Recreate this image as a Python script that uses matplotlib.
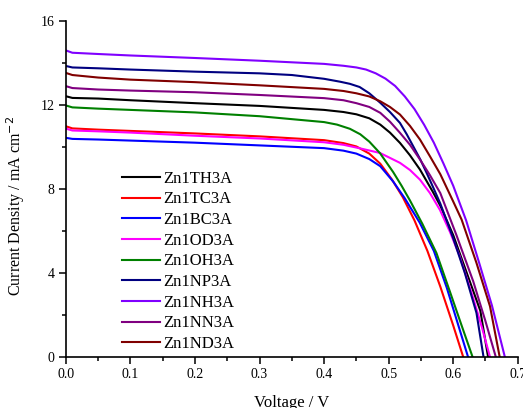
import matplotlib
matplotlib.use("Agg")
import matplotlib.pyplot as plt
from matplotlib.ticker import MultipleLocator

plt.rcParams['font.family'] = ['Liberation Serif', 'DejaVu Serif']

# J-V curves (V in volts, J in mA cm^-2)
v_th = [0, 0.01, 0.05, 0.1, 0.2, 0.3, 0.4, 0.43, 0.45, 0.47, 0.487, 0.502, 0.5175, 0.533, 0.5485, 0.5686, 0.58, 0.6, 0.621, 0.642, 0.654]
j_th = [12.41, 12.33, 12.30, 12.22, 12.08, 11.95, 11.76, 11.66, 11.55, 11.36, 11.06, 10.68, 10.19, 9.6, 8.92, 7.85, 7.2, 5.8, 4.0, 2.2, 0]

v_tc = [0, 0.01, 0.05, 0.1, 0.2, 0.3, 0.4, 0.43, 0.45, 0.47, 0.487, 0.505, 0.522, 0.54, 0.56, 0.58, 0.6, 0.6155]
j_tc = [10.98, 10.88, 10.82, 10.76, 10.64, 10.50, 10.32, 10.18, 10.02, 9.68, 9.2, 8.45, 7.6, 6.5, 5.05, 3.35, 1.5, 0]

v_bc = [0, 0.01, 0.05, 0.1, 0.2, 0.3, 0.4, 0.43, 0.45, 0.47, 0.487, 0.507, 0.525, 0.548, 0.57, 0.59, 0.61, 0.623]
j_bc = [10.43, 10.38, 10.35, 10.30, 10.20, 10.07, 9.94, 9.82, 9.68, 9.42, 9.08, 8.35, 7.55, 6.4, 5.05, 3.3, 1.3, 0]

v_od = [0, 0.01, 0.05, 0.1, 0.2, 0.3, 0.4, 0.43, 0.4556, 0.4866, 0.5175, 0.533, 0.5485, 0.564, 0.5794, 0.595, 0.61, 0.631, 0.645, 0.657]
j_od = [10.87, 10.78, 10.74, 10.68, 10.53, 10.40, 10.22, 10.10, 9.93, 9.71, 9.24, 8.9, 8.44, 7.8, 7.0, 5.95, 4.8, 2.8, 1.35, 0]

v_oh = [0, 0.01, 0.05, 0.1, 0.2, 0.3, 0.4, 0.42, 0.44, 0.456, 0.47, 0.4866, 0.507, 0.52, 0.533, 0.552, 0.574, 0.595, 0.613, 0.63]
j_oh = [11.97, 11.88, 11.82, 11.76, 11.64, 11.46, 11.18, 11.06, 10.86, 10.6, 10.25, 9.7, 8.8, 8.15, 7.45, 6.35, 4.95, 3.1, 1.5, 0]

v_np = [0, 0.01, 0.05, 0.1, 0.2, 0.3, 0.35, 0.4, 0.425, 0.44, 0.455, 0.47, 0.487, 0.502, 0.5175, 0.528, 0.538, 0.549, 0.559, 0.57, 0.58, 0.6, 0.618, 0.636, 0.647]
j_np = [13.85, 13.78, 13.74, 13.68, 13.58, 13.50, 13.42, 13.24, 13.1, 13.0, 12.85, 12.55, 12.1, 11.66, 11.14, 10.6, 10.03, 9.4, 8.75, 8.0, 7.3, 5.65, 4.0, 2.1, 0]

v_nh = [0, 0.01, 0.05, 0.1, 0.2, 0.3, 0.4, 0.43, 0.45, 0.465, 0.48, 0.495, 0.51, 0.525, 0.54, 0.555, 0.57, 0.585, 0.6, 0.62, 0.64, 0.66, 0.68]
j_nh = [14.59, 14.48, 14.42, 14.35, 14.23, 14.10, 13.95, 13.86, 13.78, 13.68, 13.5, 13.25, 12.9, 12.4, 11.8, 11.05, 10.2, 9.2, 8.15, 6.5, 4.5, 2.45, 0]

v_nn = [0, 0.01, 0.05, 0.1, 0.2, 0.3, 0.4, 0.43, 0.45, 0.47, 0.487, 0.502, 0.5175, 0.533, 0.5485, 0.564, 0.58, 0.605, 0.631, 0.65, 0.666]
j_nn = [12.89, 12.80, 12.73, 12.68, 12.60, 12.47, 12.32, 12.22, 12.08, 11.9, 11.62, 11.2, 10.67, 10.1, 9.40, 8.65, 7.8, 5.8, 3.6, 1.7, 0]

v_nd = [0, 0.01, 0.05, 0.1, 0.2, 0.3, 0.4, 0.43, 0.45, 0.47, 0.487, 0.502, 0.5175, 0.533, 0.5485, 0.564, 0.58, 0.6, 0.613, 0.636, 0.657, 0.672]
j_nd = [13.52, 13.42, 13.30, 13.20, 13.08, 12.93, 12.76, 12.66, 12.55, 12.40, 12.17, 11.9, 11.54, 11.0, 10.35, 9.55, 8.7, 7.4, 6.54, 4.48, 2.41, 0]

labels = ['Zn1TH3A', 'Zn1TC3A', 'Zn1BC3A', 'Zn1OD3A', 'Zn1OH3A',
          'Zn1NP3A', 'Zn1NH3A', 'Zn1NN3A', 'Zn1ND3A']
colors = ['#000000', '#ff0000', '#0000ff', '#ff00ff', '#008000',
          '#000080', '#8000ff', '#800080', '#800000']

series = [(v_th, j_th), (v_tc, j_tc), (v_bc, j_bc), (v_od, j_od), (v_oh, j_oh),
          (v_np, j_np), (v_nh, j_nh), (v_nn, j_nn), (v_nd, j_nd)]

fig = plt.figure(figsize=(5.23, 4.08), dpi=100)
ax = fig.add_axes([0.126, 0.125, 0.864, 0.824])

for (v, j), lab, c in zip(series, labels, colors):
    ax.plot(v, j, color=c, lw=1.5, label=lab)

ax.set_xlim(0, 0.7)
ax.set_ylim(0, 16)
ax.xaxis.set_major_locator(MultipleLocator(0.1))
ax.xaxis.set_minor_locator(MultipleLocator(0.05))
ax.yaxis.set_major_locator(MultipleLocator(4))
ax.yaxis.set_minor_locator(MultipleLocator(2))
ax.spines['top'].set_visible(False)
ax.spines['right'].set_visible(False)
for s in ('left', 'bottom'):
    ax.spines[s].set_linewidth(1.2)
ax.tick_params(which='major', direction='out', length=5, width=1.1, labelsize=10, pad=3)
ax.tick_params(which='minor', direction='out', length=3, width=1.1)

ax.set_xlabel('Voltage / V', fontsize=12, labelpad=10)
ax.set_ylabel('Current Density / mA cm$^{-2}$', fontsize=11.5)
ax.yaxis.set_label_coords(-0.085, 0.45)

ax.legend(loc='lower left', bbox_to_anchor=(0.105, -0.01), frameon=False, fontsize=12,
          handlelength=2.3, handletextpad=0.2, labelspacing=0.28, borderpad=0.0)

fig.savefig('out.png', dpi=100)
